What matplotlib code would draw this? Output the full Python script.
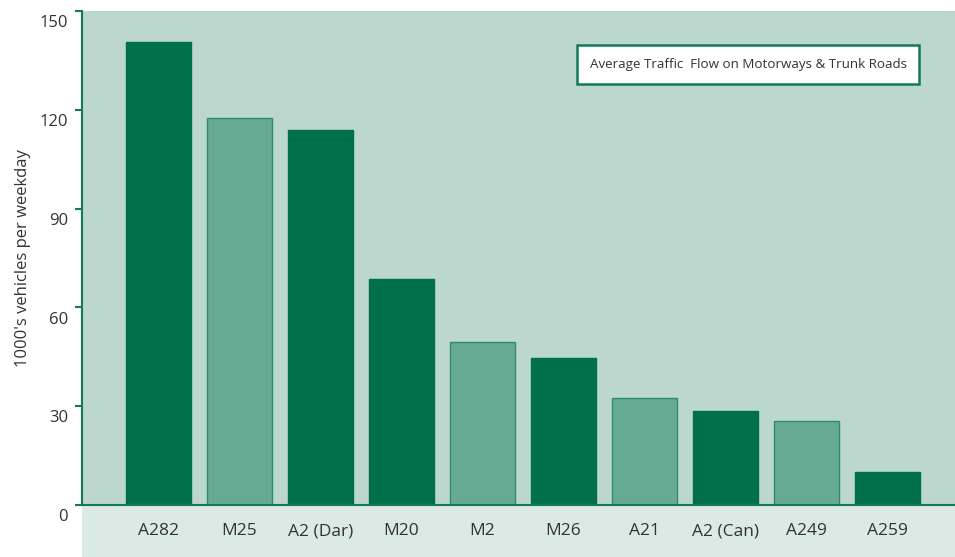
import matplotlib.pyplot as plt
import matplotlib.transforms as mtrans
from matplotlib.patches import Rectangle

# data
roads = ["A282", "M25", "A2 (Dar)", "M20", "M2", "M26", "A21", "A2 (Can)", "A249", "A259"]
flow = [140.5, 117.5, 114, 68.5, 49.5, 44.5, 32.5, 28.5, 25.5, 10]
shade = ["d", "l", "d", "d", "l", "d", "l", "d", "l", "d"]
yticks = [0, 30, 60, 90, 120, 150]

dark = "#00704a"
light = "#67aa93"
bg = "#bcd7cd"
strip = "#dbeae4"
line_c = "#137a52"
text_c = "#333333"

plt.rcParams['font.family'] = ['Open Sans', 'DejaVu Sans']

fig = plt.figure(figsize=(9.55, 5.57), dpi=100)
fig.patch.set_facecolor("white")
ax = fig.add_axes([82/955, 52/557, 873/955, 494/557])
ax.set_facecolor(bg)

x = list(range(len(roads)))
cols = [dark if s == "d" else light for s in shade]
edges = [dark if s == "d" else "#2f8c68" for s in shade]
ax.bar(x, flow, width=0.8, color=cols, edgecolor=edges, linewidth=1, zorder=2)

ax.set_ylim(0, 150)
ax.set_xlim(-0.94, 9.83)
ax.set_yticks(yticks)
ax.set_xticks(x)
ax.set_xticklabels(roads)

for s in ["top", "right"]:
    ax.spines[s].set_visible(False)
ax.spines["left"].set_color(line_c)
ax.spines["left"].set_linewidth(1.5)
ax.spines["bottom"].set_color(line_c)
ax.spines["bottom"].set_linewidth(1.5)
ax.spines["bottom"].set_zorder(3)

ax.tick_params(axis="y", length=5, width=1.5, color=line_c, pad=5,
               labelsize=12, labelcolor=text_c)
ax.tick_params(axis="x", length=0, pad=13, labelsize=12.5, labelcolor=text_c)
shift = mtrans.ScaledTranslation(0, -3/72, fig.dpi_scale_trans)
for lab in ax.get_yticklabels():
    lab.set_verticalalignment("top")
    lab.set_transform(lab.get_transform() + shift)

# light strip under the axis
ax.add_patch(Rectangle((0, -0.106), 1, 0.106, transform=ax.transAxes,
                       facecolor=strip, edgecolor="none", clip_on=False, zorder=0))

ax.set_ylabel("1000's vehicles per weekday", fontsize=12, color=text_c, labelpad=6)

ax.text(0.763, 0.892, "Average Traffic  Flow on Motorways & Trunk Roads",
        transform=ax.transAxes, ha="center", va="center", fontsize=9.6, color=text_c,
        bbox=dict(boxstyle="square,pad=0.95", facecolor="white",
                  edgecolor=line_c, linewidth=1.8))

fig.savefig("out.png", dpi=100)
